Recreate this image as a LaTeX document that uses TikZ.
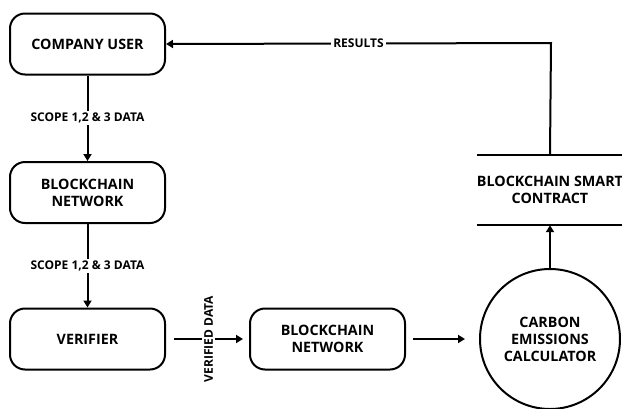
\documentclass[tikz,border=0pt]{standalone}
\usepackage{fontspec}
\setmainfont{Open Sans}
\usetikzlibrary{arrows.meta}
\begin{document}
\begin{tikzpicture}[x=1pt,y=-1pt,
  boxfont/.style={font=\bfseries\fontsize{14.3}{17}\selectfont},
  proc/.style={draw,line width=2pt,rounded corners=15pt,minimum width=155pt,minimum height=61pt,align=center,boxfont},
  lbl/.style={font=\bfseries\fontsize{12}{13.5}\selectfont,fill=white,inner sep=2pt},
  conn/.style={line width=2pt,-{Triangle[length=7pt,width=8pt]}}]
\useasboundingbox (0,0) rectangle (622,408);
\node[proc] (user) at (87.5,44) {COMPANY USER};
\node[proc] (bc1) at (87.5,192.5) {BLOCKCHAIN\\NETWORK};
\node[proc] (ver) at (87.5,339) {VERIFIER};
\node[proc] (bc2) at (327.5,339) {BLOCKCHAIN\\NETWORK};
\node[draw,circle,line width=2pt,minimum size=140pt,align=center,boxfont] (calc) at (550,339) {CARBON\\EMISSIONS\\CALCULATOR};
\node[align=center,boxfont,minimum width=144pt,minimum height=70pt,inner sep=0pt] (sc) at (550,190) {BLOCKCHAIN SMART\\CONTRACT};
\draw[line width=2pt] (sc.north west) -- (sc.north east);
\draw[line width=2pt] (sc.south west) -- (sc.south east);
\coordinate (corner) at (551,43);
\draw[conn] (user) -- node[lbl] {SCOPE 1,2 \& 3 DATA} (bc1);
\draw[conn] (bc1) -- node[lbl] {SCOPE 1,2 \& 3 DATA} (ver);
\draw[conn] ([xshift=8pt]ver.east) -- node[lbl,rotate=90] {VERIFIED DATA} ([xshift=-6pt]bc2.west);
\draw[conn] ([xshift=7pt]bc2.east) -- ([xshift=-14pt]calc.west);
\draw[conn] (calc.north) -- (sc.south);
\draw[conn] (sc.north) -- (corner) -- node[lbl,pos=0.5] {RESULTS} (user.east);
\end{tikzpicture}
\end{document}
